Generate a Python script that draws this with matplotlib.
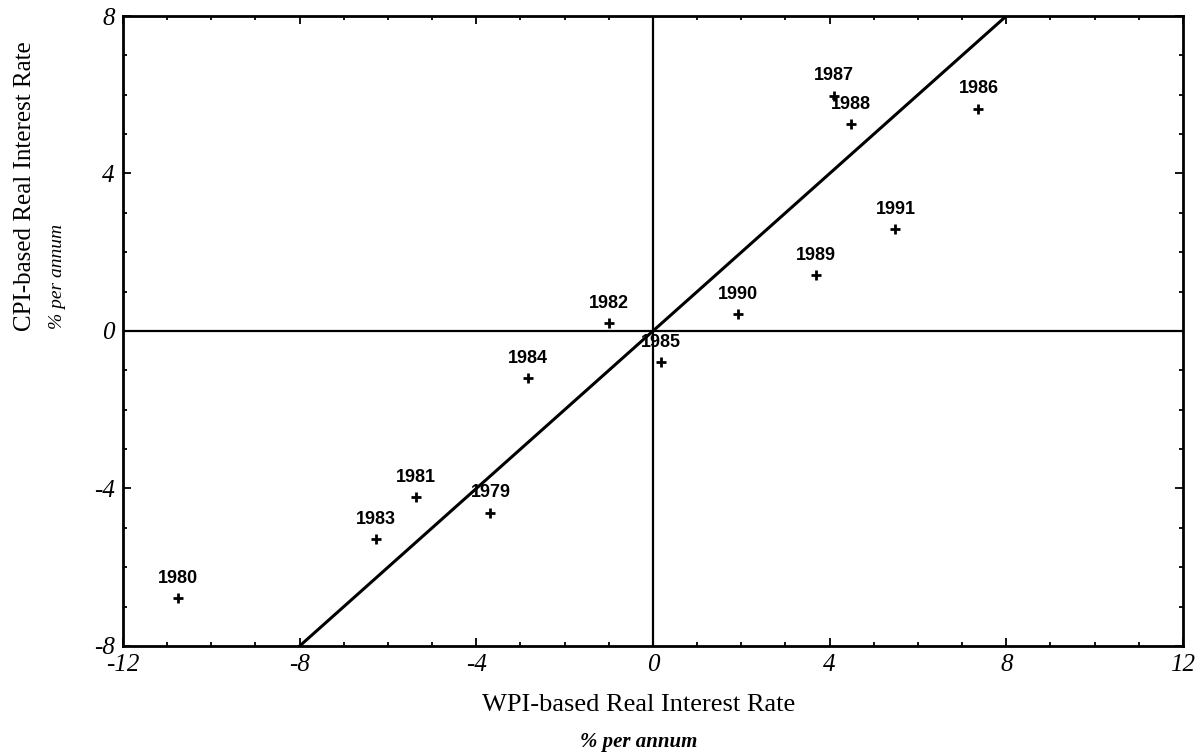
import numpy as np
import matplotlib.pyplot as plt

# Real interest rates, % per annum
years = ["1979", "1980", "1981", "1982", "1983", "1984", "1985",
         "1986", "1987", "1988", "1989", "1990", "1991"]
wpi_rate = [-3.68, -10.75, -5.36, -0.99, -6.28, -2.84, 0.18,
            7.37, 4.09, 4.48, 3.69, 1.92, 5.49]
cpi_rate = [-4.61, -6.78, -4.21, 0.21, -5.28, -1.20, -0.80,
            5.65, 5.98, 5.25, 1.42, 0.43, 2.58]

# 45-degree reference line (CPI rate = WPI rate)
diag = [-8, 8]

serif = "Liberation Serif"
sans = "Liberation Sans"
plt.rcParams["axes.unicode_minus"] = False

fig = plt.figure(figsize=(12, 7.55), dpi=100)
ax = fig.add_axes([0.1025, 0.1444, 0.8833, 0.8344])

ax.axhline(0, color="black", lw=1.6, zorder=1)
ax.axvline(0, color="black", lw=1.6, zorder=1)
ax.plot(diag, diag, color="black", lw=2.2, zorder=2)

ax.plot(wpi_rate, cpi_rate, linestyle="none", marker="+", ms=7, mew=2,
        color="black", zorder=3)
for yr, x, y in zip(years, wpi_rate, cpi_rate):
    ax.annotate(yr, (x, y), xytext=(0, 8), textcoords="offset points",
                ha="center", va="bottom", fontsize=13, fontfamily=sans,
                fontweight="bold", zorder=4)

ax.set_xlim(-12, 12)
ax.set_ylim(-8, 8)
ax.set_xticks(np.arange(-12, 13, 4))
ax.set_yticks(np.arange(-8, 9, 4))
ax.set_xticks(np.arange(-12, 13, 1), minor=True)
ax.set_yticks(np.arange(-8, 9, 1), minor=True)
ax.tick_params(which="both", direction="in", top=True, right=True,
               width=1.3, color="black")
ax.tick_params(which="major", length=6, labelsize=18, pad=6)
ax.tick_params(which="minor", length=3)
for lab in ax.get_xticklabels() + ax.get_yticklabels():
    lab.set_fontfamily(serif)
    lab.set_fontstyle("italic")

for sp in ax.spines.values():
    sp.set_linewidth(2)

fig.text(0.5325, 0.066, "WPI-based Real Interest Rate", ha="center", va="center",
         fontsize=19, fontfamily=serif)
fig.text(0.5325, 0.017, "% per annum", ha="center", va="center",
         fontsize=15, fontfamily=serif, fontstyle="italic", fontweight="bold")
fig.text(0.021, 0.753, "CPI-based Real Interest Rate", ha="center", va="center",
         rotation=90, fontsize=18, fontfamily=serif)
fig.text(0.048, 0.634, "% per annum", ha="center", va="center",
         rotation=90, fontsize=14, fontfamily=serif, fontstyle="italic")

fig.savefig("out.png", dpi=100)
